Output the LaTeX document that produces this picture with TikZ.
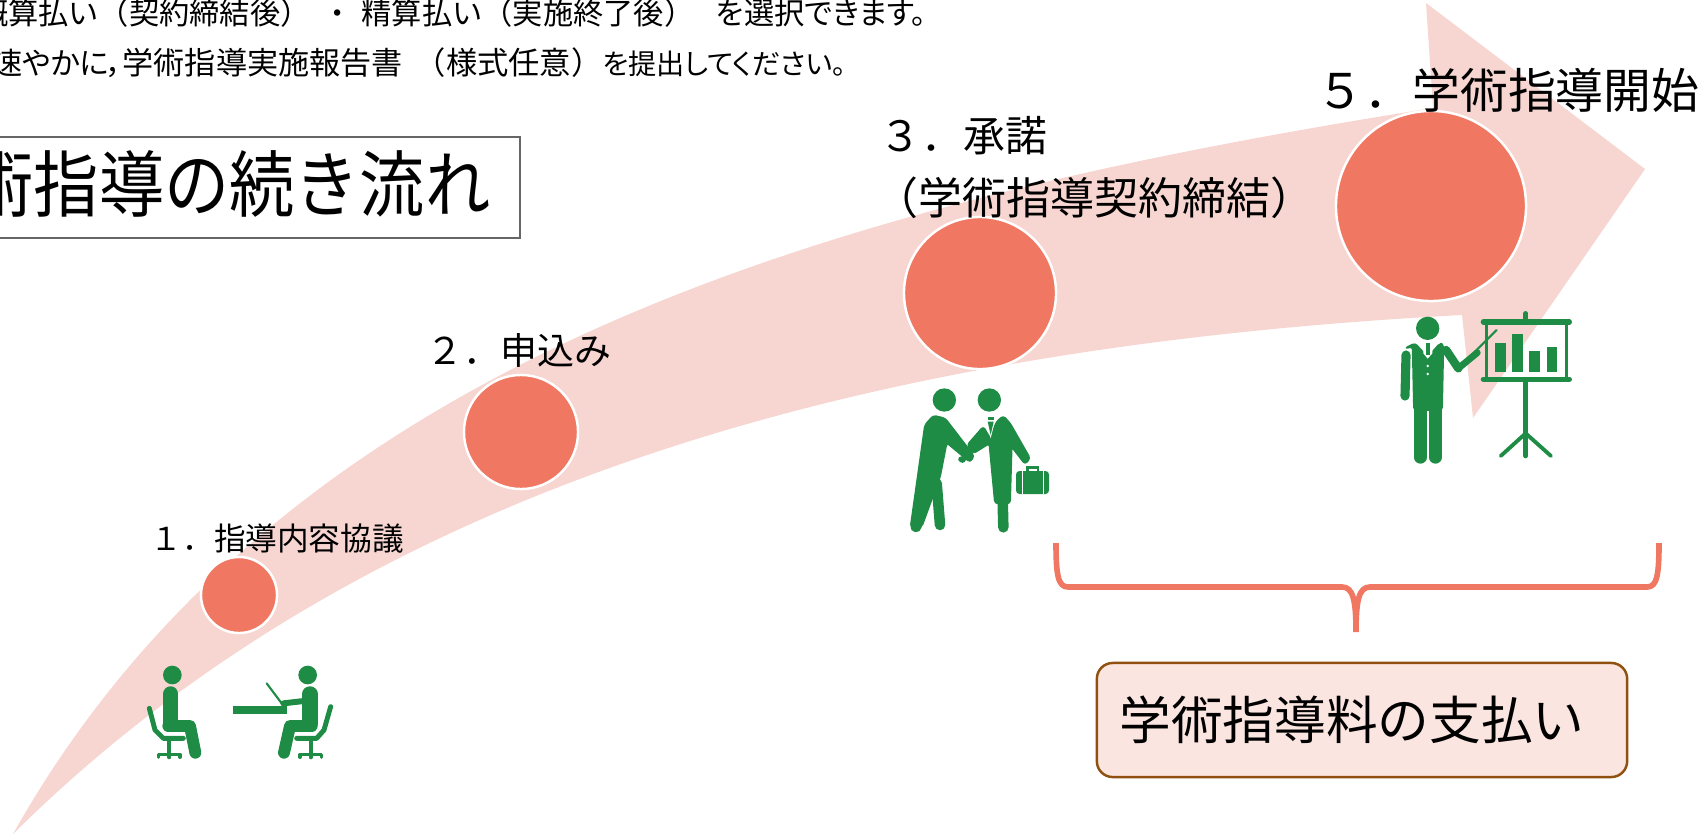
\documentclass[tikz,border=0pt]{standalone}
\usepackage{fontspec}
\setmainfont{Noto Sans CJK JP}[RawFeature=+palt]
\newfontfamily\fullfont{Noto Sans CJK JP}
\newfontfamily\narrowfont{Noto Sans CJK JP}[FakeStretch=0.9]
\usepackage{tikz}
\usetikzlibrary{positioning}
\definecolor{salmon_fill}{HTML}{F07762}
\definecolor{arrow_pink}{HTML}{F7D6D1}
\definecolor{icon_green}{HTML}{1F8C45}
\tikzstyle{stepdot} = [circle, draw=white, line width=0.7pt, fill=salmon_fill, inner sep=0pt]
\tikzstyle{steplabel} = [anchor=west, inner sep=0pt, font=\fullfont]
\tikzstyle{noteline} = [anchor=east, inner sep=0pt, font=\fontsize{8.6pt}{10pt}\selectfont]
\tikzstyle{paybox} = [rectangle, rounded corners=4.5pt, minimum width=5.3cm, minimum height=1.14cm, draw={rgb,255:red,143;green,80;blue,16}, line width=0.7pt, fill={rgb,255:red,251;green,229;blue,224}, text centered, font=\fullfont\fontsize{14.7pt}{17pt}\selectfont]
\tikzstyle{icon} = [fill=icon_green, draw=icon_green, line join=round, line width=0.5pt, rounded corners=0.8pt]
\tikzstyle{limb} = [draw=icon_green, line cap=round, line join=round]
\begin{document}
\begin{tikzpicture}[x=0.01cm, y=-0.01cm]
    \useasboundingbox (0,0) rectangle (1703,836);
    \clip (0,0) rectangle (1703,836);

    % big arrow
    \fill [arrow_pink] (13,834) .. controls (285,350) and (850,200) .. (1433,108)
        -- (1426,3) -- (1645,169) -- (1473,418) -- (1462,315)
        .. controls (900,345) and (380,470) .. (13,834) -- cycle;

    \node (note_one) [noteline] at (927,13) {{\fullfont 概算払い（契約締結後）\hspace{3.4pt}・\hspace{2.5pt}精算払い（実施終了後）}\hspace{6.2pt}を選択できます。};
    \node (note_two) [noteline] at (847,63) {速やかに，{\fullfont\fontsize{8.85pt}{10pt}\selectfont 学術指導実施報告書}\hspace{3.4pt}{\fullfont\fontsize{8.9pt}{10pt}\selectfont （様式任意）}{\fontsize{8pt}{10pt}\selectfont を提出してください。}};

    \node (title_box) [rectangle, draw=black!60, line width=0.5pt, minimum width=6.2cm, minimum height=1.01cm, anchor=north east] at (521,136) {};
    \node (title) [anchor=east, inner sep=0pt, font=\narrowfont\fontsize{20.6pt}{24pt}\selectfont] at (491,184) {術指導の続き流れ};

    \node (step_one) [stepdot, minimum size=0.76cm] at (239,595) {};
    \node (step_two) [stepdot, minimum size=1.14cm] at (521,432) {};
    \node (step_three) [stepdot, minimum size=1.52cm] at (980,293) {};
    \node (step_five) [stepdot, minimum size=1.9cm] at (1431,206) {};

    \node (label_one) [steplabel, font=\fullfont\fontsize{9pt}{11pt}\selectfont] at (150,539) {１．指導内容協議};
    \node (label_two) [steplabel, font=\fullfont\fontsize{10.5pt}{12pt}\selectfont] at (426,350) {２．申込み};
    \node (label_three) [steplabel, font=\fullfont\fontsize{11.9pt}{14pt}\selectfont] at (879,136) {３．承諾};
    \node (label_three_b) [steplabel, font=\fullfont\fontsize{12.5pt}{15pt}\selectfont] at (874,198) {（学術指導契約締結）};
    \node (label_five) [steplabel, font=\fullfont\fontsize{13.6pt}{16pt}\selectfont] at (1316,90) {５．学術指導開始};

    % brace and payment box
    \coordinate (brace_left) at (1056,543);
    \coordinate (brace_right) at (1659,543);
    \coordinate (brace_tip) at (1356,632);
    \draw [salmon_fill, line width=1.6pt] (brace_left) .. controls (1056,575) and (1058,587) .. (1068,587)
        -- (1342,587) .. controls (1353,587) and (1356,600) .. (brace_tip)
        .. controls (1356,600) and (1359,587) .. (1370,587)
        -- (1647,587) .. controls (1657,587) and (1659,575) .. (brace_right);
    \node (payment) [paybox] at (1362,720) {\raisebox{-1.2pt}{学術指導料の支払い}\hspace{5.7pt}\null};

    % people at the table
    \begin{scope}[shift={(120,640)}, scale=1/3]
        \fill [icon_green] (157,105) circle (28);
        \fill [icon_green] (563,105) circle (28);
        \draw [limb, line width=4.4pt] (152,162) -- (152,250);
        \draw [limb, line width=3.4pt] (145,258) -- (210,258) -- (226,338);
        \draw [limb, line width=1.4pt] (88,205) -- (105,270) -- (130,295) -- (190,295);
        \draw [limb, line width=1.1pt] (148,295) -- (148,352);
        \draw [limb, line width=0.9pt] (115,352) -- (115,343) -- (180,343) -- (180,352);
        \draw [limb, line width=4.4pt] (570,162) -- (570,250);
        \draw [limb, line width=3.4pt] (575,258) -- (510,258) -- (492,338);
        \draw [limb, line width=1.7pt] (560,182) -- (490,190);
        \draw [limb, line width=0.6pt] (440,130) -- (485,190);
        \draw [icon_green, line width=2pt] (340,210) -- (500,210);
        \draw [limb, line width=1.4pt] (632,200) -- (612,270) -- (590,295) -- (530,295);
        \draw [limb, line width=1.1pt] (572,295) -- (572,352);
        \draw [limb, line width=0.9pt] (540,352) -- (540,343) -- (605,343) -- (605,352);
    \end{scope}

    % handshake
    \begin{scope}[shift={(890,370)}, scale=1/3]
        \fill [icon_green] (163,90) circle (35);
        \fill [icon_green] (298,90) circle (35);
        \filldraw [icon] (105,165) -- (130,137) -- (165,145) -- (252,258) -- (240,276)
            -- (170,218) -- (150,320) -- (95,470) -- (62,470) -- cycle;
        \draw [limb, line width=3.2pt] (100,330) -- (78,470);
        \draw [limb, line width=3pt] (140,340) -- (150,465);
        \filldraw [icon] (300,205) -- (320,155) -- (340,138) -- (360,160) -- (420,265) -- (405,282)
            -- (365,230) -- (360,400) -- (315,400)
            -- (298,220) -- (250,250) -- (232,225) -- (280,170) -- cycle;
        \draw [limb, line width=3pt] (338,390) -- (340,472);
        \filldraw [icon] (205,262) -- (225,262) -- (225,276) -- (210,276) -- cycle;
        \fill [white] (283,130) -- (320,130) -- (302,205) -- cycle;
        \fill [icon_green] (293,140) rectangle (311,150);
        \fill [icon_green] (293,155) -- (311,155) -- (302,195) -- cycle;
        \fill [icon_green, rounded corners=1pt] (378,303) rectangle (477,372);
        \fill [white] (395,303) rectangle (400,372);
        \fill [white] (458,303) rectangle (463,372);
        \draw [icon_green, line width=0.8pt] (412,303) -- (412,292) -- (444,292) -- (444,303);
    \end{scope}

    % lecturer
    \begin{scope}[shift={(1380,300)}, scale=1/3]
        \fill [icon_green] (143,85) circle (35);
        \filldraw [icon] (75,145) -- (105,130) -- (143,172) -- (180,130) -- (190,135)
            -- (186,330) -- (102,330) -- (98,140) -- cycle;
        \draw [limb, line width=2.6pt] (78,165) -- (75,288);
        \draw [limb, line width=2.4pt] (198,150) -- (235,205);
        \draw [limb, line width=1.9pt] (235,205) -- (292,158);
        \draw [limb, line width=3.6pt] (121,320) -- (121,472);
        \draw [limb, line width=3.6pt] (166,320) -- (166,472);
        \fill [white] (130,128) -- (157,128) -- (157,160) -- (143,176) -- (130,160) -- cycle;
        \fill [icon_green] (137,130) rectangle (151,165);
        \fill [white] (143,198) circle (4);
        \fill [white] (143,222) circle (4);
        \draw [limb, line width=0.6pt] (270,170) -- (350,90);
        \draw [limb, line width=1.5pt] (310,66) -- (568,66);
        \draw [limb, line width=1.5pt] (310,238) -- (568,238);
        \draw [icon_green, line width=0.8pt] (320,66) -- (320,238);
        \draw [icon_green, line width=0.8pt] (560,66) -- (560,238);
        \draw [limb, line width=1.3pt] (437,40) -- (437,60);
        \fill [icon_green] (345,130) rectangle (378,215);
        \fill [icon_green] (395,102) rectangle (430,215);
        \fill [icon_green] (447,152) rectangle (480,215);
        \fill [icon_green] (500,140) rectangle (532,215);
        \draw [limb, line width=1.3pt] (437,246) -- (437,468);
        \draw [limb, line width=1.1pt] (362,468) -- (437,400) -- (513,468);
    \end{scope}
\end{tikzpicture}
\end{document}
